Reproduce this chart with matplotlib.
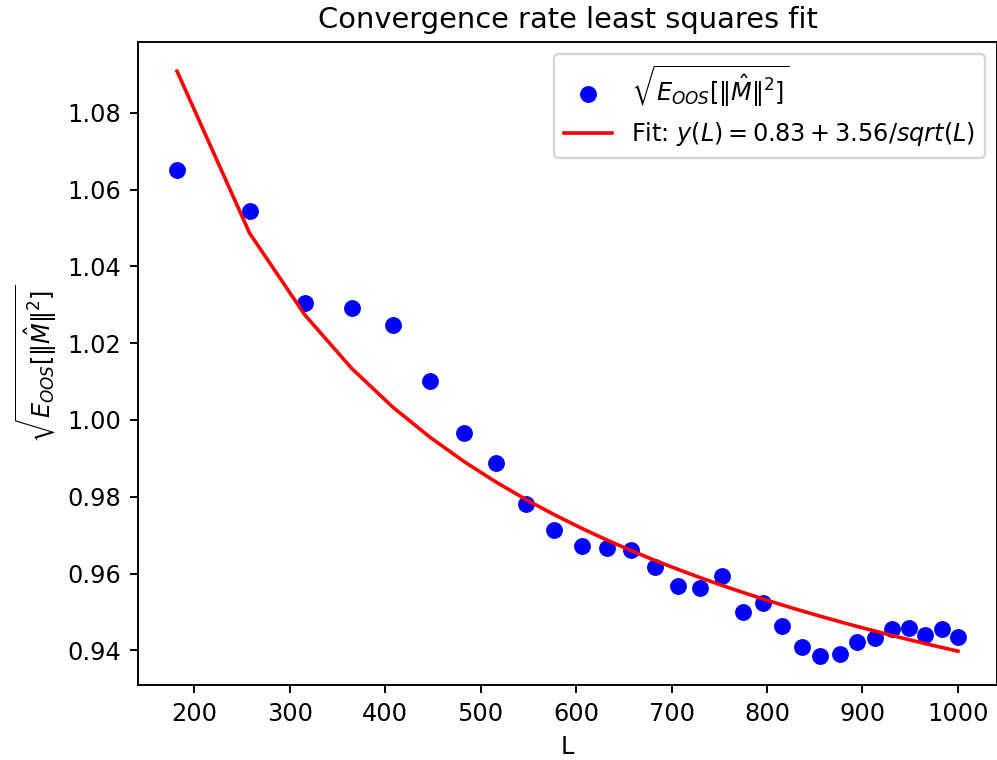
import numpy as np
import matplotlib
matplotlib.use("Agg")
import matplotlib.pyplot as plt

# sample sizes L and measured sqrt(E_OOS[||M_hat||^2])
L = np.array([182, 258, 316, 365, 408, 447, 483, 516, 548, 577,
              606, 632, 658, 683, 707, 730, 753, 775, 796, 816,
              837, 856, 876, 894, 913, 931, 949, 966, 983, 1000])
err = np.array([1.0652, 1.0543, 1.0305, 1.0292, 1.0247, 1.0102, 0.9966, 0.9888, 0.9781, 0.9713,
                0.9673, 0.9667, 0.9662, 0.9617, 0.9568, 0.9563, 0.9593, 0.9501, 0.9523, 0.9464,
                0.9410, 0.9386, 0.9390, 0.9423, 0.9432, 0.9455, 0.9458, 0.9441, 0.9455, 0.9436])

# least squares fit y = a + b / sqrt(L)
A = np.column_stack([np.ones_like(L, dtype=float), 1.0 / np.sqrt(L)])
a, b = np.linalg.lstsq(A, err, rcond=None)[0]
fit = a + b / np.sqrt(L)

lab = r'$\sqrt{E_{OOS}[\|\hat{M}\|^2]}$'
fit_lab = r'Fit: $y(L) = 0.83 + 3.56/sqrt(L)$'

fig = plt.figure(figsize=(997 / 173, 760 / 173), dpi=173)
ax = fig.add_axes([138 / 997, 75 / 760, 859 / 997, 643 / 760])
ax.scatter(L, err, color="blue", label=lab)
ax.plot(L, fit, color="red", label=fit_lab)
ax.set_title("Convergence rate least squares fit")
ax.set_xlabel("L")
ax.set_ylabel(lab)
ax.legend()
fig.savefig("out.png", dpi=173)
